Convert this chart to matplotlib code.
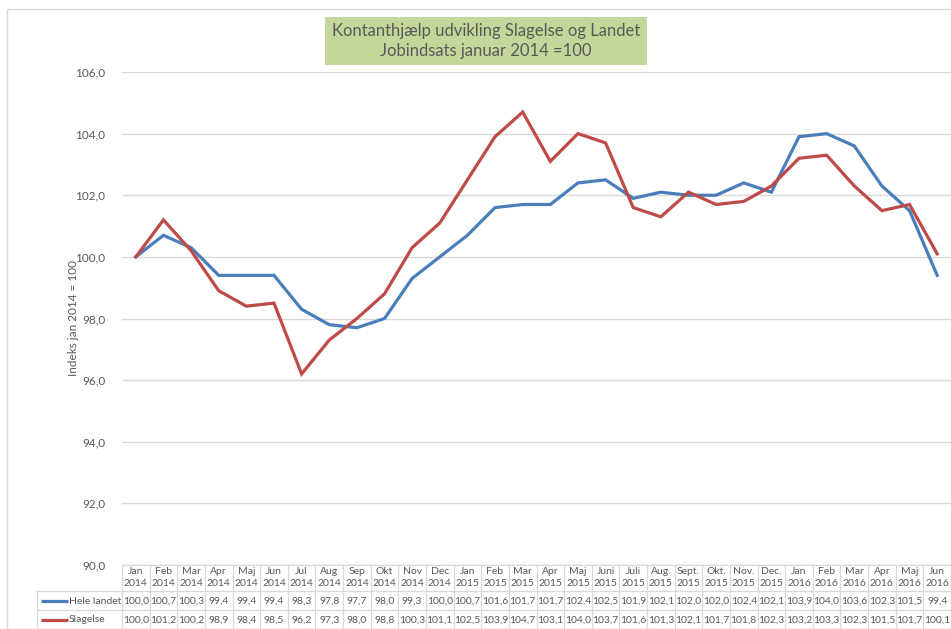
import matplotlib
matplotlib.use("Agg")
import matplotlib.pyplot as plt
import matplotlib.transforms as mtransforms
from matplotlib.patches import Rectangle
from matplotlib.lines import Line2D

months = ["Jan", "Feb", "Mar", "Apr", "Maj", "Jun", "Jul", "Aug", "Sep", "Okt", "Nov", "Dec",
          "Jan", "Feb", "Mar", "Apr", "Maj", "Juni", "Juli", "Aug.", "Sept.", "Okt.", "Nov.", "Dec.",
          "Jan", "Feb", "Mar", "Apr", "Maj", "Jun"]
years = ["2014"] * 12 + ["2015"] * 12 + ["2016"] * 6
hele_landet = [100.0, 100.7, 100.3, 99.4, 99.4, 99.4, 98.3, 97.8, 97.7, 98.0, 99.3, 100.0,
               100.7, 101.6, 101.7, 101.7, 102.4, 102.5, 101.9, 102.1, 102.0, 102.0, 102.4, 102.1,
               103.9, 104.0, 103.6, 102.3, 101.5, 99.4]
slagelse = [100.0, 101.2, 100.2, 98.9, 98.4, 98.5, 96.2, 97.3, 98.0, 98.8, 100.3, 101.1,
            102.5, 103.9, 104.7, 103.1, 104.0, 103.7, 101.6, 101.3, 102.1, 101.7, 101.8, 102.3,
            103.2, 103.3, 102.3, 101.5, 101.7, 100.1]
series_names = ["Hele landet", "Slagelse"]
yticks = [90, 92, 94, 96, 98, 100, 102, 104, 106]
title = "Kontanthjælp udvikling Slagelse og Landet\nJobindsats januar 2014 =100"
ylabel = "Indeks jan 2014 = 100"

BLUE = "#4a7ebb"
RED = "#be4b48"
TXT = "#595959"
GRID = "#d9d9d9"

plt.rcParams["font.family"] = ["Lato", "DejaVu Sans"]

W, H = 951, 629
fig = plt.figure(figsize=(W / 100, H / 100), dpi=100)

# outer border
fig.add_artist(Rectangle((7 / W, 0), 1.2, (H - 9) / H, transform=fig.transFigure,
                         fill=False, edgecolor=GRID, lw=1.0))

left, right, top, bottom = 122, 951, 72, 565
ax = fig.add_axes([left / W, 1 - bottom / H, (right - left) / W, (bottom - top) / H])
n = len(months)
x = list(range(n))
ax.set_xlim(-0.5, n - 0.5)
ax.set_ylim(90, 106)
ax.set_yticks(yticks)
ax.set_yticklabels([f"{v:.1f}".replace(".", ",") for v in yticks], color=TXT, fontsize=8.5)
ax.tick_params(axis="y", length=0, pad=12)
ax.set_xticks([])
for s in ax.spines.values():
    s.set_visible(False)
ax.grid(axis="y", color=GRID, lw=1.0)
ax.set_axisbelow(True)
ax.plot(x, hele_landet, color=BLUE, lw=2.3, solid_joinstyle="miter")
ax.plot(x, slagelse, color=RED, lw=2.3, solid_joinstyle="miter")
ax.set_ylabel(ylabel, color=TXT, fontsize=8.5)
ax.yaxis.set_label_coords((79 - left) / (right - left), 0.5)

# title box
fig.text(486 / W, 1 - 41 / H, title, ha="center", va="center", fontsize=12, color=TXT,
         linespacing=1.25,
         bbox=dict(boxstyle="square,pad=0.4", facecolor="#c4d79b", edgecolor="none"))

# data table
tr = mtransforms.blended_transform_factory(ax.transData, fig.transFigure)
def fy(p):
    return 1 - p / H

# vertical lines for each column
for i in range(n + 1):
    xe = i - 0.5
    fig.add_artist(Line2D([xe, xe], [fy(565), fy(629)], transform=tr, color=GRID, lw=0.9))
# horizontal lines
fig.add_artist(Line2D([-0.5, n - 0.5], [fy(565), fy(565)], transform=tr, color=GRID, lw=0.9))
for yy in [591, 610, 628.5]:
    fig.add_artist(Line2D([37 / W, 1.0], [fy(yy), fy(yy)], transform=fig.transFigure,
                          color=GRID, lw=0.9))
fig.add_artist(Line2D([37 / W, 37 / W], [fy(591), fy(629)], transform=fig.transFigure,
                      color=GRID, lw=0.9))

fs = 7.5
for i in range(n):
    fig.text(i, fy(572), months[i], transform=tr, ha="center", va="center", fontsize=fs, color=TXT)
    fig.text(i, fy(584), years[i], transform=tr, ha="center", va="center", fontsize=fs, color=TXT)
    fig.text(i, fy(601), f"{hele_landet[i]:.1f}".replace(".", ","), transform=tr,
             ha="center", va="center", fontsize=fs, color=TXT)
    fig.text(i, fy(620), f"{slagelse[i]:.1f}".replace(".", ","), transform=tr,
             ha="center", va="center", fontsize=fs, color=TXT)

for name, col, yy in [(series_names[0], BLUE, 601), (series_names[1], RED, 620)]:
    fig.add_artist(Line2D([41 / W, 68 / W], [fy(yy), fy(yy)], transform=fig.transFigure,
                          color=col, lw=2.3, solid_capstyle="butt"))
    fig.text(69 / W, fy(yy), name, ha="left", va="center", fontsize=fs, color=TXT)

fig.savefig("out.png", dpi=100)
